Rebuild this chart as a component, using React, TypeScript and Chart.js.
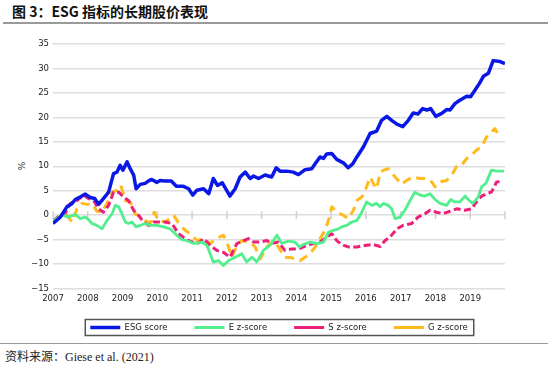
import React, { useEffect, useRef } from 'react';
import Chart from 'chart.js/auto';

const yearLabels = ['2007', '2008', '2009', '2010', '2011', '2012', '2013', '2014', '2015', '2016', '2017', '2018', '2019'];
const seriesNames = ['ESG score', 'E z-score', 'S z-score', 'G z-score'];

const esgT = [2007.0, 2007.21, 2007.4, 2007.55, 2007.64, 2007.78, 2007.93, 2008.07, 2008.2, 2008.31, 2008.45, 2008.6, 2008.74, 2008.84, 2008.93, 2009.01, 2009.13, 2009.22, 2009.32, 2009.39, 2009.51, 2009.65, 2009.75, 2009.84, 2009.99, 2010.08, 2010.22, 2010.4, 2010.55, 2010.75, 2010.9, 2011.02, 2011.14, 2011.33, 2011.48, 2011.61, 2011.73, 2011.87, 2012.09, 2012.24, 2012.38, 2012.53, 2012.67, 2012.77, 2012.91, 2013.1, 2013.29, 2013.42, 2013.53, 2013.72, 2013.91, 2014.06, 2014.25, 2014.44, 2014.54, 2014.68, 2014.78, 2014.87, 2015.02, 2015.16, 2015.35, 2015.49, 2015.62, 2015.74, 2015.93, 2016.12, 2016.31, 2016.45, 2016.6, 2016.74, 2016.89, 2017.06, 2017.22, 2017.36, 2017.5, 2017.63, 2017.75, 2017.86, 2018.01, 2018.18, 2018.32, 2018.42, 2018.56, 2018.7, 2018.9, 2019.01, 2019.14, 2019.26, 2019.38, 2019.52, 2019.66, 2019.86, 2020.0];
const esgV = [-1.7, -0.4, 1.7, 2.4, 3.2, 3.7, 4.3, 3.6, 3.4, 2.2, 3.4, 4.7, 8.5, 8.8, 10.2, 9.2, 10.9, 9.5, 8.2, 5.4, 6.3, 6.5, 7.0, 7.3, 6.7, 7.1, 7.0, 7.0, 5.9, 5.9, 5.4, 4.1, 5.1, 5.4, 4.4, 7.5, 6.1, 6.6, 3.9, 5.4, 7.8, 8.8, 7.5, 8.0, 7.5, 8.2, 7.8, 9.7, 9.0, 9.0, 8.8, 8.3, 9.3, 9.5, 10.5, 11.9, 11.6, 12.5, 12.6, 11.4, 10.7, 9.7, 10.5, 11.9, 14.0, 16.7, 17.2, 19.4, 20.2, 19.4, 18.6, 18.1, 19.4, 20.9, 20.7, 21.8, 21.5, 21.8, 20.2, 20.8, 21.6, 21.5, 22.8, 23.5, 24.3, 24.2, 25.6, 26.9, 28.4, 29.0, 31.6, 31.4, 31.0];

const eT = [2007.0, 2007.26, 2007.45, 2007.64, 2007.78, 2007.93, 2008.02, 2008.12, 2008.26, 2008.41, 2008.55, 2008.7, 2008.79, 2008.89, 2008.98, 2009.08, 2009.17, 2009.27, 2009.39, 2009.51, 2009.65, 2009.8, 2009.99, 2010.18, 2010.37, 2010.56, 2010.71, 2010.85, 2011.04, 2011.28, 2011.43, 2011.61, 2011.76, 2011.9, 2012.05, 2012.24, 2012.43, 2012.57, 2012.72, 2012.86, 2013.05, 2013.24, 2013.44, 2013.58, 2013.77, 2013.96, 2014.09, 2014.2, 2014.39, 2014.59, 2014.78, 2014.92, 2015.06, 2015.21, 2015.3, 2015.45, 2015.59, 2015.74, 2015.88, 2016.02, 2016.17, 2016.31, 2016.41, 2016.5, 2016.64, 2016.74, 2016.84, 2016.98, 2017.12, 2017.27, 2017.41, 2017.56, 2017.7, 2017.84, 2017.99, 2018.13, 2018.32, 2018.44, 2018.56, 2018.7, 2018.85, 2018.97, 2019.07, 2019.23, 2019.33, 2019.45, 2019.61, 2019.76, 2019.97];
const eV = [-1.1, 0.0, -0.4, 0.2, -0.7, -0.4, -0.9, -1.7, -2.1, -2.8, -1.1, 0.3, 2.0, 1.7, 0.3, -1.4, -1.7, -1.4, -2.4, -2.1, -1.7, -2.1, -2.1, -2.4, -2.8, -4.1, -5.0, -5.2, -5.8, -5.5, -6.2, -9.6, -9.3, -10.3, -9.3, -8.6, -7.9, -9.6, -8.6, -9.6, -7.2, -6.2, -4.1, -5.8, -5.3, -5.5, -6.5, -6.0, -5.5, -5.8, -5.5, -3.5, -3.1, -2.8, -2.4, -2.1, -1.4, -1.1, 0.6, 2.7, 2.0, 2.4, 1.7, 2.4, 2.0, 1.3, -0.7, -0.4, 1.0, 3.0, 4.7, 4.1, 3.9, 4.4, 3.2, 2.4, 2.0, 3.2, 2.7, 2.7, 3.9, 3.0, 2.4, 3.7, 5.8, 6.5, 9.2, 9.0, 9.0];

const sT = [2007.0, 2007.21, 2007.35, 2007.5, 2007.69, 2007.88, 2008.02, 2008.17, 2008.31, 2008.45, 2008.6, 2008.74, 2008.89, 2009.03, 2009.17, 2009.32, 2009.46, 2009.6, 2009.75, 2009.89, 2010.03, 2010.23, 2010.42, 2010.61, 2010.8, 2010.99, 2011.18, 2011.33, 2011.52, 2011.71, 2011.9, 2012.09, 2012.29, 2012.48, 2012.62, 2012.77, 2012.96, 2013.15, 2013.29, 2013.48, 2013.67, 2013.86, 2014.06, 2014.3, 2014.49, 2014.68, 2014.87, 2015.02, 2015.16, 2015.3, 2015.49, 2015.74, 2015.97, 2016.21, 2016.41, 2016.55, 2016.69, 2016.89, 2017.07, 2017.32, 2017.5, 2017.7, 2017.84, 2018.03, 2018.22, 2018.42, 2018.61, 2018.85, 2019.04, 2019.18, 2019.33, 2019.47, 2019.61, 2019.76, 2019.91];
const sV = [-1.1, 0.0, 0.4, 2.4, 3.0, 4.1, 3.4, 3.0, 1.3, 0.6, 2.0, 4.7, 4.7, 3.7, 3.0, 1.0, 0.0, -1.4, -2.1, -1.4, -1.4, -1.4, -1.7, -3.8, -4.8, -5.5, -5.7, -4.8, -6.2, -7.2, -7.6, -8.6, -5.8, -5.2, -4.8, -5.5, -5.5, -5.2, -5.8, -5.5, -7.2, -6.9, -6.9, -6.2, -5.8, -5.5, -4.5, -3.8, -5.2, -6.0, -6.5, -6.5, -6.2, -6.0, -6.4, -5.2, -4.5, -2.8, -2.1, -1.7, -0.4, 0.3, 1.0, 0.6, 0.3, 0.8, 1.3, 1.0, 1.3, 2.7, 3.9, 4.4, 4.7, 6.8, 6.9];

const gT = [2007.0, 2007.21, 2007.4, 2007.55, 2007.69, 2007.83, 2007.98, 2008.12, 2008.26, 2008.41, 2008.55, 2008.7, 2008.84, 2008.95, 2009.08, 2009.22, 2009.36, 2009.51, 2009.65, 2009.8, 2009.91, 2010.03, 2010.23, 2010.47, 2010.61, 2010.8, 2010.99, 2011.14, 2011.33, 2011.52, 2011.71, 2011.9, 2012.05, 2012.14, 2012.29, 2012.43, 2012.67, 2012.81, 2012.96, 2013.15, 2013.34, 2013.48, 2013.67, 2013.86, 2014.1, 2014.25, 2014.39, 2014.54, 2014.68, 2014.83, 2014.92, 2015.02, 2015.16, 2015.35, 2015.49, 2015.64, 2015.74, 2015.88, 2016.02, 2016.12, 2016.21, 2016.31, 2016.41, 2016.52, 2016.64, 2016.79, 2016.93, 2017.03, 2017.17, 2017.34, 2017.56, 2017.75, 2017.89, 2017.99, 2018.13, 2018.32, 2018.47, 2018.61, 2018.75, 2018.9, 2019.04, 2019.18, 2019.33, 2019.47, 2019.61, 2019.71, 2019.81];
const gV = [-1.4, -0.2, 0.0, -1.4, 1.3, 2.4, 2.2, 2.4, 0.8, 0.6, 2.4, 4.7, 5.1, 6.1, 3.0, 2.7, 0.3, -0.4, -1.1, -1.6, 0.6, -1.1, -1.4, 0.0, -1.6, -3.1, -4.1, -5.2, -4.8, -5.8, -4.8, -4.1, -6.5, -8.6, -6.2, -5.2, -5.5, -6.5, -8.9, -6.5, -5.2, -6.5, -8.6, -8.7, -9.3, -8.6, -7.9, -6.5, -4.8, -3.1, -1.1, 1.7, 0.6, 0.0, -0.7, 1.0, 3.0, 3.7, 5.8, 7.8, 6.5, 5.4, 8.8, 9.2, 9.5, 8.2, 7.1, 6.3, 7.1, 7.8, 7.5, 7.5, 6.8, 5.8, 6.8, 7.1, 8.2, 10.0, 10.2, 11.6, 12.3, 13.3, 14.0, 16.0, 17.0, 17.7, 16.4];

const toPoints = (t: number[], v: number[]) => t.map((x, i) => ({ x, y: v[i] }));

const TICK_FONT = { family: 'DejaVu Sans', size: 8.5 };
const LEGEND_LIFT = 9.25;

const zeroTicks = {
  id: 'zeroTicks',
  beforeDatasetsDraw(chart: any) {
    const xs = chart.scales.x;
    const ys = chart.scales.y;
    const ctx = chart.ctx;
    const y0 = ys.getPixelForValue(0);
    ctx.save();
    ctx.strokeStyle = '#cfcfcf';
    ctx.lineWidth = 1.5;
    xs.ticks.forEach((t: any) => {
      const px = xs.getPixelForValue(t.value);
      ctx.beginPath();
      ctx.moveTo(px, y0 - 4);
      ctx.lineTo(px, y0 + 4);
      ctx.stroke();
    });
    ctx.restore();
  },
};

const legendLift = {
  id: 'legendLift',
  afterLayout(chart: any) {
    const lg = chart.legend;
    if (!lg) return;
    lg.top -= LEGEND_LIFT;
    lg.bottom -= LEGEND_LIFT;
  },
};

const legendBorder = {
  id: 'legendBorder',
  afterDraw(chart: any) {
    const lg = chart.legend;
    if (!lg || !lg.legendHitBoxes || !lg.legendHitBoxes.length) return;
    const boxes = lg.legendHitBoxes;
    const left = Math.min(...boxes.map((b: any) => b.left)) - 5;
    const right = Math.max(...boxes.map((b: any) => b.left + b.width)) + 6;
    const cy = boxes[0].top + boxes[0].height / 2;
    const ctx = chart.ctx;
    ctx.save();
    ctx.strokeStyle = '#555555';
    ctx.lineWidth = 1.5;
    ctx.setLineDash([]);
    ctx.strokeRect(left, cy - 8, right - left, 16);
    ctx.restore();
  },
};

export default function App() {
  const ref = useRef<HTMLCanvasElement>(null);
  useEffect(() => {
    if (!ref.current) return;
    const chart = new Chart(ref.current, {
      type: 'line',
      data: {
        datasets: [
          { label: seriesNames[0], data: toPoints(esgT, esgV), borderColor: '#0a18e6', backgroundColor: '#0a18e6', borderWidth: 3.5 },
          { label: seriesNames[1], data: toPoints(eT, eV), borderColor: '#52ef8e', backgroundColor: '#52ef8e', borderWidth: 2.8 },
          { label: seriesNames[2], data: toPoints(sT, sV), borderColor: '#ee1f78', backgroundColor: '#ee1f78', borderWidth: 3, borderDash: [7, 3.5] },
          { label: seriesNames[3], data: toPoints(gT, gV), borderColor: '#ffbb1c', backgroundColor: '#ffbb1c', borderWidth: 3, borderDash: [9, 6] },
        ],
      },
      options: {
        animation: false,
        responsive: false,
        maintainAspectRatio: false,
        layout: { padding: { left: 0, right: 45, top: 19, bottom: 0 } },
        elements: {
          point: { radius: 0, hoverRadius: 0 },
          line: { tension: 0, borderJoinStyle: 'round' },
        },
        scales: {
          x: {
            type: 'linear',
            min: 2007,
            max: 2020,
            grid: { display: false, drawTicks: false },
            border: { display: false },
            ticks: {
              stepSize: 1,
              autoSkip: false,
              maxRotation: 0,
              padding: 5,
              color: '#222222',
              font: TICK_FONT,
              callback: (v: any) => (yearLabels.includes(String(v)) ? String(v) : ''),
            },
            afterFit: (s: any) => { s.height = 17; },
          },
          y: {
            min: -15,
            max: 35,
            grid: { color: '#dedede', lineWidth: 1.5, drawTicks: false },
            border: { display: false },
            ticks: {
              stepSize: 5,
              padding: 4,
              color: '#222222',
              font: TICK_FONT,
              callback: (v: any) => String(v).replace('-', '\u2212'),
            },
            afterFit: (s: any) => { s.width = 53; },
          },
        },
        plugins: {
          tooltip: { enabled: false },
          legend: {
            position: 'bottom',
            fullSize: false,
            labels: {
              usePointStyle: true,
              pointStyle: 'line',
              pointStyleWidth: 30,
              boxWidth: 30,
              padding: 27,
              color: '#222222',
              font: { family: 'DejaVu Sans', size: 8.5 },
            },
          },
        },
      },
      plugins: [zeroTicks, legendLift, legendBorder],
    });
    return () => chart.destroy();
  }, []);

  return (
    <div style={{ position: 'fixed', left: 0, top: 0, width: 550, height: 368, background: '#ffffff', overflow: 'hidden' }}>
      <div style={{ position: 'absolute', left: 12, top: 1.5, fontFamily: '"Noto Sans CJK SC", sans-serif', fontWeight: 700, fontSize: 14, lineHeight: '19px', color: '#111', whiteSpace: 'nowrap' }}>
        图 3：ESG 指标的长期股价表现
      </div>
      <div style={{ position: 'absolute', left: 3, top: 22, width: 545, height: 1.5, background: '#9a9a9a' }} />
      <div style={{ position: 'absolute', left: 22, top: 166, transform: 'translate(-50%, -50%) rotate(-90deg)', fontFamily: 'DejaVu Sans', fontSize: 9, color: '#333', lineHeight: '10px' }}>
        %
      </div>
      <div style={{ position: 'absolute', left: 0, top: 342.5, width: 548, height: 1.5, background: '#9a9a9a' }} />
      <div style={{ position: 'absolute', left: 5, top: 347, whiteSpace: 'nowrap', lineHeight: '18px', color: '#222' }}>
        <span style={{ fontFamily: '"Noto Sans CJK SC", sans-serif', fontSize: 12 }}>资料来源：</span>
        <span style={{ fontFamily: '"Liberation Serif", serif', fontSize: 12 }}>Giese et al. (2021)</span>
      </div>
      <canvas ref={ref} width={550} height={326} style={{ position: 'absolute', left: 0, top: 25, width: 550, height: 326 }} />
    </div>
  );
}
